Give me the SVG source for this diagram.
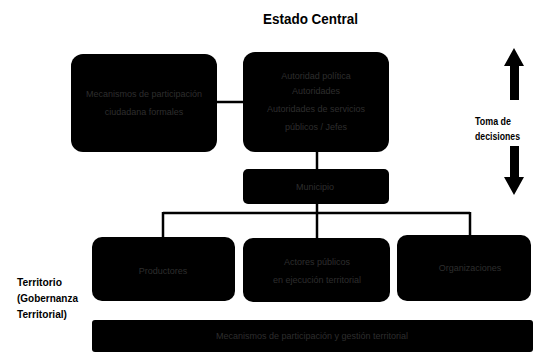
<svg xmlns="http://www.w3.org/2000/svg" width="533" height="352" viewBox="0 0 533 352">
<style>
.box{fill:#000;}
.in{font-family:"Liberation Sans",Arial,sans-serif;font-size:9px;fill:#2e2e2e;text-anchor:middle;}
.lbl{font-family:"Liberation Sans",Arial,sans-serif;font-weight:bold;fill:#000;}
.con{stroke:#000;stroke-width:2.5;fill:none;}
</style>
<rect width="533" height="352" fill="#fff"/>
<text class="lbl" x="263" y="24" font-size="14" textLength="95" lengthAdjust="spacingAndGlyphs">Estado Central</text>
<g id="connectors">
<line class="con" x1="216" y1="102" x2="243" y2="102"/>
<line class="con" x1="317" y1="150" x2="317" y2="170"/>
<line class="con" x1="317" y1="203" x2="317" y2="213"/>
<line class="con" x1="163" y1="213" x2="470" y2="213"/>
<line class="con" x1="163" y1="212" x2="163" y2="238"/>
<line class="con" x1="317" y1="212" x2="317" y2="238"/>
<line class="con" x1="470" y1="212" x2="470" y2="236"/>
</g>
<g id="n-mecanismos">
<rect class="box" x="71" y="54" width="146" height="98" rx="12"/>
<text class="in" x="144" y="97">Mecanismos de participación</text>
<text class="in" x="144" y="115">ciudadana formales</text>
</g>
<g id="n-autoridad">
<rect class="box" x="243" y="52" width="146" height="100" rx="12"/>
<text class="in" x="316" y="79">Autoridad política</text>
<text class="in" x="316" y="94">Autoridades</text>
<text class="in" x="316" y="112">Autoridades de servicios</text>
<text class="in" x="316" y="130">públicos / Jefes</text>
</g>
<g id="n-municipio">
<rect class="box" x="243" y="169" width="146" height="35" rx="5"/>
<text class="in" x="315" y="190">Municipio</text>
</g>
<g id="n-productores">
<rect class="box" x="92" y="237" width="143" height="64" rx="10"/>
<text class="in" x="163" y="274">Productores</text>
</g>
<g id="n-actores">
<rect class="box" x="243" y="238" width="147" height="64" rx="10"/>
<text class="in" x="317" y="265">Actores públicos</text>
<text class="in" x="317" y="283">en ejecución territorial</text>
</g>
<g id="n-organizaciones">
<rect class="box" x="397" y="235" width="134" height="66" rx="10"/>
<text class="in" x="470" y="271">Organizaciones</text>
</g>
<g id="n-bar">
<rect class="box" x="92" y="320" width="441" height="32" rx="3"/>
<text class="in" x="312" y="339">Mecanismos de participación y gestión territorial</text>
</g>
<g id="n-territorio">
<text class="lbl" x="17" y="286" font-size="11" textLength="45" lengthAdjust="spacingAndGlyphs">Territorio</text>
<text class="lbl" x="17" y="302" font-size="11" textLength="61" lengthAdjust="spacingAndGlyphs">(Gobernanza</text>
<text class="lbl" x="17" y="318" font-size="11" textLength="50" lengthAdjust="spacingAndGlyphs">Territorial)</text>
</g>
<g id="n-toma">
<polygon points="514,48 524,66 519,66 519,100 510,100 510,66 504,66" fill="#000"/>
<polygon points="514,195 524,177 519,177 519,146 510,146 510,177 504,177" fill="#000"/>
<text class="lbl" x="475" y="125" font-size="10" textLength="36" lengthAdjust="spacingAndGlyphs">Toma de</text>
<text class="lbl" x="475" y="140" font-size="10" textLength="45" lengthAdjust="spacingAndGlyphs">decisiones</text>
</g>
</svg>
